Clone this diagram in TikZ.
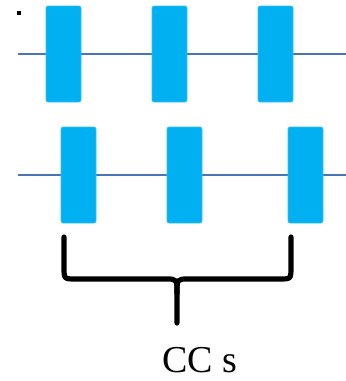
\documentclass[tikz,border=0pt]{standalone}
\usepackage{fontspec}
\setmainfont{Liberation Serif}
\definecolor{boxcyan}{HTML}{00B0F0}
\definecolor{boxedge}{HTML}{33C0F4}
\definecolor{wire}{HTML}{4A74B8}
\begin{document}
\begin{tikzpicture}[x=1pt,y=-1pt,
  ccbox/.style={rectangle, rounded corners=2pt, fill=boxcyan, draw=boxedge, line width=0.6pt,
    minimum width=35pt, minimum height=96pt, inner sep=0pt},
  wireline/.style={draw=wire, line width=1.4pt},
  bracestyle/.style={draw=black, line width=5.2pt, line cap=round, line join=round}]
\useasboundingbox (0,0) rectangle (346,381);
% wires
\coordinate (w1l) at (18,54);
\coordinate (w1r) at (346,54);
\coordinate (w2l) at (18,175);
\coordinate (w2r) at (346,175);
\draw[wireline] (w1l) -- (w1r);
\draw[wireline] (w2l) -- (w2r);
% boxes row 1
\node[ccbox] (a1) at (63.5,54) {};
\node[ccbox] (a2) at (169.5,54) {};
\node[ccbox] (a3) at (275.5,54) {};
% boxes row 2
\node[ccbox] (b1) at (78.5,175) {};
\node[ccbox] (b2) at (184.5,175) {};
\node[ccbox] (b3) at (305.5,175) {};
% small mark
\fill[black] (17,11) rectangle (20.5,14.5);
% brace
\coordinate (bl) at (64,237);
\coordinate (br) at (291,237);
\coordinate (bt) at (177,323);
\draw[bracestyle] (bl) -- (64,267) .. controls (64,279) .. (76,279) -- (166,279)
   .. controls (177,279) .. (177,294) -- (bt);
\draw[bracestyle] (br) -- (291,267) .. controls (291,279) .. (279,279) -- (188,279)
   .. controls (177,279) .. (177,294);
% label
\node[anchor=base, font=\fontsize{38}{38}\selectfont, inner sep=0pt] (lbl) at (200,372) {CC s};
\end{tikzpicture}
\end{document}
